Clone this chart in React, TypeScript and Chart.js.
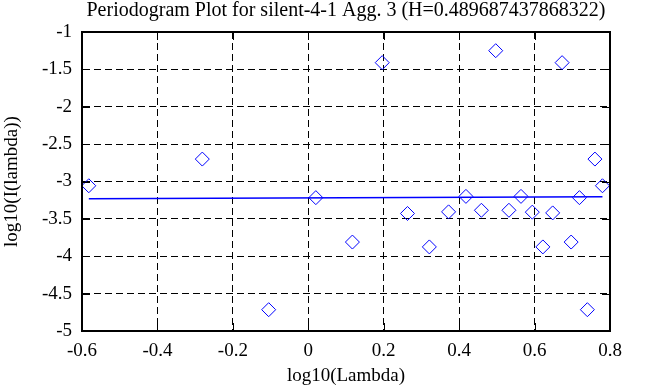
import React, { useEffect, useRef } from "react";
import { Chart, registerables } from "chart.js";

Chart.register(...registerables);

const titleText = "Periodogram Plot for silent-4-1 Agg. 3 (H=0.489687437868322)";
const xAxisTitle = "log10(Lambda)";
const yAxisTitle = "log10(I(lambda))";

const logLambda = [
  -0.582, -0.281, -0.105, 0.02, 0.117, 0.196, 0.263, 0.321, 0.372, 0.418, 0.459, 0.497,
  0.532, 0.564, 0.594, 0.622, 0.648, 0.673, 0.697, 0.719, 0.74, 0.76, 0.78,
];
const logI = [
  -3.057, -2.7, -4.715, -3.216, -3.81, -1.41, -3.428, -3.875, -3.406, -3.199, -3.385, -1.25,
  -3.385, -3.199, -3.41, -3.875, -3.42, -1.41, -3.81, -3.216, -4.715, -2.7, -3.057,
];
const fitX = [-0.582, 0.78];
const fitY = [-3.231, -3.203];

const xTicks = [-0.6, -0.4, -0.2, 0, 0.2, 0.4, 0.6, 0.8];
const xTickLabels = ["-0.6", "-0.4", "-0.2", "0", "0.2", "0.4", "0.6", "0.8"];
const yTicks = [-5, -4.5, -4, -3.5, -3, -2.5, -2, -1.5, -1];
const yTickLabels = ["-5", "-4.5", "-4", "-3.5", "-3", "-2.5", "-2", "-1.5", "-1"];

const FONT = "'Liberation Serif', 'Times New Roman', serif";

const framePlugin = {
  id: "frame",
  afterDatasetsDraw(chart: any) {
    const { ctx, chartArea, scales } = chart;
    const { left, right, top, bottom } = chartArea;
    ctx.save();
    ctx.strokeStyle = "#000";
    ctx.lineWidth = 1;
    ctx.setLineDash([]);
    ctx.beginPath();
    const len = 8;
    xTicks.forEach((v) => {
      const px = Math.round(scales.x.getPixelForValue(v)) + 0.5;
      ctx.moveTo(px, bottom);
      ctx.lineTo(px, bottom - len);
      ctx.moveTo(px, top);
      ctx.lineTo(px, top + len);
    });
    yTicks.forEach((v) => {
      const py = Math.round(scales.y.getPixelForValue(v)) + 0.5;
      ctx.moveTo(left, py);
      ctx.lineTo(left + len, py);
      ctx.moveTo(right, py);
      ctx.lineTo(right - len, py);
    });
    ctx.stroke();
    ctx.lineWidth = 2;
    ctx.strokeRect(left, top, right - left, bottom - top);
    ctx.restore();
  },
  afterDraw(chart: any) {
    const { ctx, chartArea } = chart;
    ctx.save();
    ctx.fillStyle = "#000";
    ctx.font = `20px ${FONT}`;
    ctx.textAlign = "center";
    ctx.textBaseline = "alphabetic";
    ctx.fillText(titleText, (chartArea.left + chartArea.right) / 2, 16);
    ctx.restore();
  },
};

export default function App() {
  const ref = useRef<HTMLCanvasElement | null>(null);
  useEffect(() => {
    if (!ref.current) return;
    Chart.defaults.font.family = FONT;
    Chart.defaults.color = "#000";
    const chart = new Chart(ref.current, {
      type: "scatter",
      data: {
        datasets: [
          {
            type: "line",
            data: fitX.map((x, i) => ({ x, y: fitY[i] })),
            borderColor: "#0000ff",
            borderWidth: 1.5,
            pointRadius: 0,
            fill: false,
            tension: 0,
          } as any,
          {
            data: logLambda.map((x, i) => ({ x, y: logI[i] })),
            pointStyle: "rectRot",
            pointRadius: 7,
            pointHoverRadius: 7,
            pointBorderWidth: 1,
            borderColor: "#0000ff",
            backgroundColor: "rgba(0,0,0,0)",
            borderWidth: 1,
          } as any,
        ],
      },
      options: {
        responsive: false,
        animation: false,
        events: [],
        layout: { padding: { left: 0, right: 43, top: 32, bottom: 0 } },
        plugins: {
          legend: { display: false },
          tooltip: { enabled: false },
          title: { display: false },
        },
        scales: {
          x: {
            type: "linear",
            min: -0.6,
            max: 0.8,
            afterBuildTicks: (s: any) => {
              s.ticks = xTicks.map((v) => ({ value: v }));
            },
            afterFit: (s: any) => {
              s.height = 56;
            },
            ticks: {
              autoSkip: false,
              maxRotation: 0,
              padding: 9,
              color: "#000",
              font: { family: FONT, size: 19 },
              callback: (v: any) => {
                const i = xTicks.findIndex((t) => Math.abs(t - v) < 1e-6);
                return i >= 0 ? xTickLabels[i] : "";
              },
            },
            grid: { color: "#000", lineWidth: 1, drawTicks: false, tickLength: 0 },
            border: { display: true, color: "#000", width: 2, dash: [7, 4] },
            title: {
              display: true,
              text: xAxisTitle,
              color: "#000",
              font: { family: FONT, size: 19 },
              padding: 0,
            },
          },
          y: {
            type: "linear",
            min: -5,
            max: -1,
            afterBuildTicks: (s: any) => {
              s.ticks = yTicks.map((v) => ({ value: v }));
            },
            afterFit: (s: any) => {
              s.width = 82;
            },
            ticks: {
              autoSkip: false,
              padding: 10,
              color: "#000",
              font: { family: FONT, size: 19 },
              callback: (v: any) => {
                const i = yTicks.findIndex((t) => Math.abs(t - v) < 1e-6);
                return i >= 0 ? yTickLabels[i] : "";
              },
            },
            grid: { color: "#000", lineWidth: 1, drawTicks: false, tickLength: 0 },
            border: { display: true, color: "#000", width: 2, dash: [7, 4] },
            title: {
              display: true,
              text: yAxisTitle,
              color: "#000",
              font: { family: FONT, size: 19 },
              padding: 1,
            },
          },
        },
      } as any,
      plugins: [framePlugin],
    });
    return () => chart.destroy();
  }, []);
  return (
    <div style={{ position: "fixed", left: 0, top: 0, width: 653, height: 387, background: "#fff" }}>
      <canvas ref={ref} width={653} height={387} style={{ display: "block" }} />
    </div>
  );
}
